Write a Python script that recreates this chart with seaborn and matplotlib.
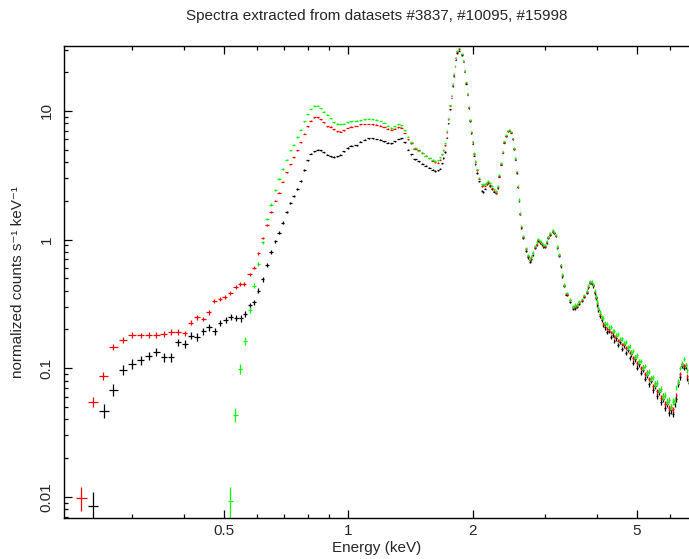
import numpy as np
import matplotlib
matplotlib.use("Agg")
import matplotlib.pyplot as plt
import matplotlib.ticker as mtick
import seaborn as sns

# Energies (keV) and normalized counts s^-1 keV^-1.
# Low energy bins differ per dataset, above 0.57 keV all three share the same bins.
black_lo_energy = [0.2408, 0.2562, 0.2698, 0.2848, 0.2995, 0.3144, 0.3286, 0.3428, 0.3579, 0.3721,
                   0.3873, 0.4017, 0.4160, 0.4308, 0.4455, 0.4599, 0.4748, 0.4891, 0.5048, 0.5192,
                   0.5356, 0.5488, 0.5621]
black_lo = [0.0084, 0.0465, 0.0678, 0.0969, 0.108, 0.1155, 0.125, 0.134, 0.121, 0.121,
            0.159, 0.154, 0.179, 0.175, 0.194, 0.208, 0.194, 0.226, 0.237, 0.249,
            0.244, 0.244, 0.263]

red_lo_energy = [0.2257, 0.2408, 0.2551, 0.2698, 0.2848, 0.2995, 0.3144, 0.3286, 0.3428, 0.3573,
                 0.3727, 0.3876, 0.4017, 0.4153, 0.4301, 0.4455, 0.4599, 0.4737, 0.4891, 0.5020,
                 0.5180, 0.5338, 0.5476, 0.5590]
red_lo = [0.0098, 0.055, 0.087, 0.146, 0.166, 0.182, 0.180, 0.181, 0.182, 0.184,
          0.191, 0.192, 0.186, 0.226, 0.249, 0.241, 0.272, 0.333, 0.343, 0.355,
          0.386, 0.43, 0.449, 0.452]

green_lo_energy = [0.5180, 0.5326, 0.5476, 0.5630]
green_lo = [0.0093, 0.0435, 0.0987, 0.162]

hi_energy = [
    0.577, 0.592, 0.606, 0.620, 0.636, 0.650, 0.666, 0.680, 0.694, 0.709,
    0.724, 0.738, 0.752, 0.767, 0.782, 0.797, 0.811, 0.827, 0.843, 0.858,
    0.873, 0.890, 0.906, 0.922, 0.940, 0.957, 0.975, 0.996, 1.018, 1.047,
    1.07, 1.095, 1.12, 1.145, 1.17, 1.195, 1.22, 1.245, 1.27, 1.295,
    1.32, 1.345, 1.37, 1.395, 1.42, 1.45, 1.48, 1.51, 1.54, 1.57,
    1.60, 1.625, 1.645, 1.665, 1.685, 1.70,
    1.715, 1.731, 1.747, 1.763, 1.780, 1.790, 1.803, 1.813, 1.823, 1.836,
    1.857, 1.882, 1.899, 1.913, 1.928, 1.942, 1.957, 1.971, 1.985, 2.001,
    2.016, 2.030, 2.053, 2.076, 2.104, 2.125, 2.143, 2.163, 2.183, 2.204,
    2.225, 2.252, 2.279, 2.300, 2.317, 2.343, 2.365, 2.386, 2.409, 2.432,
    2.454, 2.477, 2.501, 2.519, 2.537, 2.557, 2.576, 2.590, 2.604, 2.624,
    2.653, 2.693, 2.728, 2.754, 2.775, 2.796, 2.832, 2.858, 2.884, 2.912,
    2.940, 2.968, 2.995, 3.023, 3.051, 3.088, 3.126, 3.152, 3.179, 3.207,
    3.238, 3.268, 3.298, 3.329, 3.380, 3.443, 3.507, 3.540, 3.573, 3.624,
    3.674, 3.726, 3.778, 3.812, 3.847, 3.883, 3.919, 3.949, 3.979, 4.005,
    4.030, 4.068, 4.108,
    4.15, 4.19, 4.23, 4.275, 4.32, 4.365, 4.41, 4.455, 4.50, 4.55,
    4.60, 4.65, 4.70, 4.75, 4.80, 4.85, 4.90, 4.955, 5.01, 5.065,
    5.12, 5.175, 5.23, 5.29, 5.35, 5.41, 5.47, 5.53, 5.59, 5.65,
    5.715, 5.78, 5.845, 5.91, 5.975, 6.04, 6.105, 6.17, 6.235, 6.30,
    6.365, 6.43, 6.495, 6.56, 6.625, 6.69]

green_hi = [
    0.283, 0.437, 0.641, 0.95, 1.44, 1.87, 2.41, 2.96, 3.52, 4.18,
    4.93, 5.46, 6.26, 7.14, 8.33, 9.43, 10.36, 10.99, 10.99, 10.5,
    9.88, 9.32, 8.78, 8.18, 7.98, 7.90, 7.98, 8.18, 8.33, 8.42,
    8.45, 8.6, 8.68, 8.62, 8.52, 8.35, 8.1, 7.7, 7.38, 7.62,
    7.88, 7.75, 7.1, 6.3, 5.7, 5.16, 4.9, 4.7, 4.48, 4.3,
    4.16, 4.08, 4.12, 4.35, 4.6, 5.0,
    5.6, 7.0, 8.8, 11.1, 13.3, 16.3, 19.5, 22.6, 26.2, 29.5,
    31.0, 27.9, 24.7, 20.7, 16.8, 13.7, 10.8, 8.5, 6.9, 5.8,
    4.72, 4.07, 3.51, 3.02, 2.68, 2.71, 2.69, 2.80, 2.84, 2.74,
    2.6, 2.46, 2.38, 2.6, 3.2, 3.94, 4.85, 5.79, 6.52, 7.04,
    7.15, 6.91, 6.15, 5.15, 4.31, 3.39, 2.6, 2.05, 1.61, 1.27,
    1.06, 0.855, 0.755, 0.71, 0.74, 0.79, 0.89, 0.95, 1.01, 0.98,
    0.94, 0.915, 0.905, 0.975, 1.055, 1.12, 1.18, 1.14, 1.085, 0.885,
    0.765, 0.635, 0.535, 0.445, 0.385, 0.341, 0.302, 0.31, 0.312, 0.33,
    0.345, 0.37, 0.40, 0.44, 0.475, 0.47, 0.45, 0.4, 0.363, 0.33,
    0.295, 0.272, 0.25,
    0.245, 0.226, 0.222, 0.208, 0.209, 0.193, 0.195, 0.18, 0.184, 0.168,
    0.17, 0.156, 0.16, 0.145, 0.148, 0.133, 0.136, 0.122, 0.126, 0.112,
    0.114, 0.101, 0.104, 0.091, 0.094, 0.083, 0.085, 0.075, 0.077, 0.067,
    0.069, 0.06, 0.062, 0.055, 0.057, 0.05, 0.055, 0.057, 0.071, 0.079,
    0.1, 0.109, 0.118, 0.106, 0.096, 0.08]

red_hi = [
    0.537, 0.606, 0.779, 1.03, 1.30, 1.64, 2.01, 2.32, 2.82, 3.34,
    3.85, 4.35, 4.93, 5.73, 6.67, 7.61, 8.37, 8.94, 8.94, 8.63,
    8.13, 7.62, 7.53, 7.18, 6.92, 6.89, 7.05, 7.35, 7.53, 7.62,
    7.85, 7.92, 7.92, 7.88, 7.84, 7.70, 7.52, 7.3, 7.14, 7.28,
    7.45, 7.4, 6.75, 6.0, 5.6, 5.1, 4.95, 4.72, 4.5, 4.3,
    4.1, 3.98, 3.97, 4.17, 4.6, 4.95,
    5.4, 6.8, 8.6, 10.9, 13.1, 16.0, 19.2, 22.2, 25.7, 28.9,
    30.3, 27.6, 24.5, 20.5, 16.6, 13.5, 10.7, 8.45, 6.85, 5.72,
    4.66, 4.0, 3.45, 2.97, 2.61, 2.64, 2.63, 2.73, 2.79, 2.65,
    2.51, 2.39, 2.32, 2.54, 3.1, 3.84, 4.74, 5.69, 6.44, 6.94,
    7.05, 6.84, 6.09, 5.09, 4.24, 3.34, 2.57, 2.02, 1.59, 1.25,
    1.04, 0.84, 0.74, 0.69, 0.73, 0.78, 0.875, 0.93, 1.0, 0.96,
    0.93, 0.895, 0.89, 0.955, 1.045, 1.10, 1.165, 1.13, 1.075, 0.875,
    0.755, 0.63, 0.53, 0.44, 0.38, 0.337, 0.298, 0.303, 0.307, 0.325,
    0.338, 0.362, 0.39, 0.43, 0.465, 0.462, 0.442, 0.39, 0.357, 0.322,
    0.29, 0.263, 0.244,
    0.224, 0.219, 0.203, 0.201, 0.19, 0.188, 0.176, 0.177, 0.164, 0.166,
    0.153, 0.155, 0.143, 0.145, 0.132, 0.134, 0.12, 0.123, 0.11, 0.113,
    0.1, 0.102, 0.09, 0.093, 0.082, 0.084, 0.073, 0.076, 0.066, 0.068,
    0.059, 0.061, 0.053, 0.055, 0.049, 0.05, 0.048, 0.056, 0.062, 0.078,
    0.09, 0.107, 0.105, 0.106, 0.087, 0.079]

black_hi = [
    0.309, 0.325, 0.400, 0.49, 0.635, 0.80, 0.97, 1.13, 1.35, 1.64,
    1.93, 2.17, 2.49, 2.87, 3.46, 4.13, 4.65, 4.85, 4.99, 4.93,
    4.76, 4.57, 4.43, 4.38, 4.43, 4.57, 4.85, 5.15, 5.36, 5.42,
    5.75, 5.95, 6.12, 6.15, 6.05, 5.97, 5.80, 5.68, 5.63, 5.80,
    6.05, 6.12, 5.7, 5.0, 4.6, 4.22, 4.05, 3.9, 3.75, 3.62,
    3.5, 3.42, 3.45, 3.55, 3.92, 4.3,
    4.8, 6.2, 8.0, 10.3, 12.6, 15.5, 18.6, 21.6, 25.0, 28.0,
    29.4, 27.0, 24.0, 20.1, 16.3, 13.3, 10.5, 8.3, 6.7, 5.55,
    4.5, 3.85, 3.3, 2.83, 2.38, 2.34, 2.49, 2.68, 2.76, 2.61,
    2.48, 2.36, 2.31, 2.53, 3.08, 3.83, 4.73, 5.68, 6.38, 6.93,
    7.0, 6.79, 6.04, 5.04, 4.19, 3.29, 2.54, 1.99, 1.57, 1.23,
    1.02, 0.82, 0.725, 0.67, 0.70, 0.76, 0.86, 0.91, 0.975, 0.95,
    0.915, 0.88, 0.875, 0.945, 1.03, 1.09, 1.15, 1.12, 1.06, 0.865,
    0.745, 0.62, 0.52, 0.435, 0.372, 0.328, 0.29, 0.295, 0.3, 0.318,
    0.333, 0.357, 0.386, 0.425, 0.46, 0.455, 0.435, 0.383, 0.35, 0.312,
    0.282, 0.254, 0.236,
    0.215, 0.207, 0.19, 0.196, 0.176, 0.182, 0.163, 0.17, 0.152, 0.159,
    0.141, 0.15, 0.131, 0.139, 0.12, 0.128, 0.11, 0.117, 0.101, 0.107,
    0.092, 0.097, 0.083, 0.088, 0.075, 0.08, 0.068, 0.072, 0.061, 0.065,
    0.055, 0.058, 0.049, 0.053, 0.045, 0.047, 0.044, 0.053, 0.058, 0.075,
    0.085, 0.104, 0.1, 0.103, 0.083, 0.077]

# effective exposure per dataset, used for the Poisson error bars
exposure = {"black": 95000, "red": 150000, "green": 90000}

x_ticks = [0.5, 1, 2, 5]
x_tick_labels = ["0.5", "1", "2", "5"]
y_ticks = [0.01, 0.1, 1, 10]
y_tick_labels = ["0.01", "0.1", "1", "10"]

sns.set_style("ticks")
plt.rcParams['font.family'] = ['Liberation Sans', 'DejaVu Sans']

fig = plt.figure(figsize=(6.89, 5.59), dpi=100)
ax = fig.add_axes([0.0922, 0.0733, 0.9107, 0.8444])

series = [
    ("black", "#000000", black_lo_energy, black_lo, black_hi),
    ("red", "#ff0000", red_lo_energy, red_lo, red_hi),
    ("green", "#00ff00", green_lo_energy, green_lo, green_hi),
]
for name, color, lo_e, lo_v, hi_v in series:
    e = np.array(lo_e + hi_energy)
    v = np.array(lo_v + hi_v)
    de = np.gradient(e)
    yerr = np.sqrt(v / (de * exposure[name]))
    ax.errorbar(e, v, xerr=0.45 * de, yerr=yerr, fmt='none',
                ecolor=color, elinewidth=0.9, capsize=0)

ax.set_xscale('log')
ax.set_yscale('log')
ax.set_xlim(0.2044, 6.76)
ax.set_ylim(0.00683, 31.98)

ax.set_xticks(x_ticks, x_tick_labels)
ax.set_yticks(y_ticks, y_tick_labels)
ax.xaxis.set_minor_locator(mtick.LogLocator(base=10, subs=np.arange(2, 10), numticks=20))
ax.yaxis.set_minor_locator(mtick.LogLocator(base=10, subs=np.arange(2, 10), numticks=20))
ax.xaxis.set_minor_formatter(mtick.NullFormatter())
ax.yaxis.set_minor_formatter(mtick.NullFormatter())

ax.tick_params(which='both', direction='in', top=True, right=False,
               color='black', width=0.9, labelsize=11)
ax.tick_params(which='major', length=5.5)
ax.tick_params(which='minor', length=3)
ax.tick_params(axis='x', pad=4)
ax.tick_params(axis='y', pad=7, labelrotation=90)
for lbl in ax.get_yticklabels():
    lbl.set_va('center')

for sp in ax.spines.values():
    sp.set_color('black')
    sp.set_linewidth(1.0)

fig.text(377 / 689, 1 - 16 / 559, "Spectra extracted from datasets #3837, #10095, #15998",
         ha='center', va='center', fontsize=11)
fig.text(377 / 689, 1 - 548 / 559, "Energy (keV)", ha='center', va='center', fontsize=11)
fig.text(18 / 689, 1 - 282 / 559, "normalized counts s\u207b\u00b9 keV\u207b\u00b9",
         ha='center', va='center', rotation=90, fontsize=11)

fig.savefig('out.png', dpi=100)
plt.close(fig)
